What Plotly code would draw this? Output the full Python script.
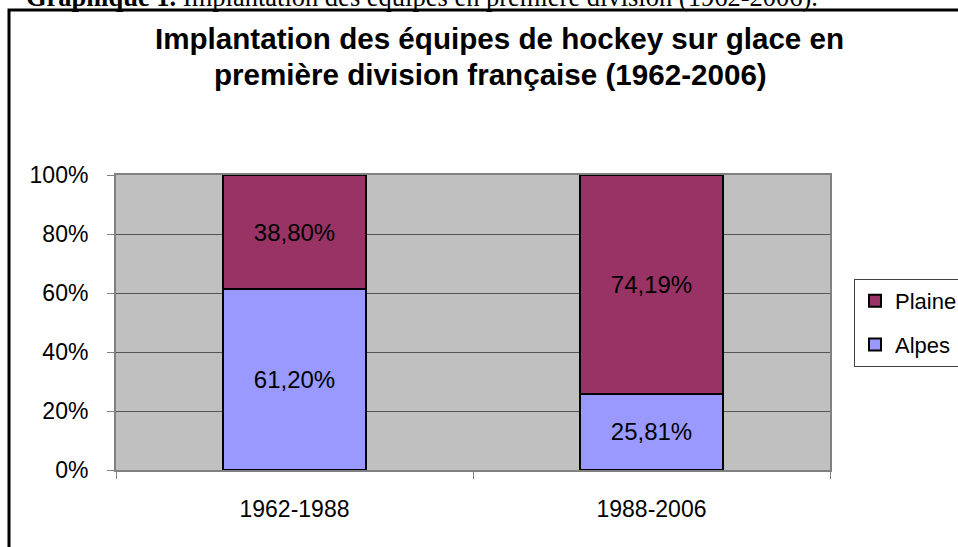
import plotly.graph_objects as go

# ---- data ----
categories = ["1962-1988", "1988-2006"]
alpes = [61.20, 25.81]
plaine = [38.80, 74.19]
series_names = ["Alpes", "Plaine"]
y_ticks = [0, 20, 40, 60, 80, 100]
title_lines = ["Implantation des équipes de hockey sur glace en",
               "première division française (1962-2006)"]
caption_bold = "Graphique 1."
caption_rest = "Implantation des équipes en première division (1962-2006)."

# ---- layout geometry (pixels) ----
W, H = 958, 547
PL, PR, PT, PB = 116, 830, 175, 470


def px_x(px):
    return (px - PL) / (PR - PL)


def px_y(py):
    return (PB - py) / (PB - PT)


def fmt(v):
    return f"{v:.2f}%".replace(".", ",")


SANS = "Liberation Sans, Arial, sans-serif"
SERIF = "Liberation Serif, Times New Roman, serif"

fig = go.Figure()
fig.add_trace(go.Bar(
    x=categories, y=alpes, name=series_names[0], legendgroup="a", legendrank=2,
    marker=dict(color="#9999FF", line=dict(color="black", width=2)),
    text=[fmt(v) for v in alpes], textposition="inside",
    insidetextanchor="middle",
    insidetextfont=dict(family=SANS, size=24, color="black"),
    width=0.403, hoverinfo="skip"))
fig.add_trace(go.Bar(
    x=categories, y=plaine, name=series_names[1], legendgroup="b", legendrank=1,
    marker=dict(color="#993366", line=dict(color="black", width=2)),
    text=[fmt(v) for v in plaine], textposition="inside",
    insidetextanchor="middle",
    insidetextfont=dict(family=SANS, size=24, color="black"),
    width=0.403, hoverinfo="skip"))

annotations = [
    dict(text=title_lines[0], x=px_x(499), y=px_y(57), xref="paper", yref="paper",
         xanchor="center", yanchor="bottom", showarrow=False,
         font=dict(family=SANS, size=29.6, color="black", weight="bold")),
    dict(text=title_lines[1], x=px_x(490), y=px_y(93), xref="paper", yref="paper",
         xanchor="center", yanchor="bottom", showarrow=False,
         font=dict(family=SANS, size=29.6, color="black", weight="bold")),
    dict(text=f"<b>{caption_bold}</b> {caption_rest}", x=px_x(24), y=px_y(14),
         xref="paper", yref="paper", xanchor="left", yanchor="bottom",
         showarrow=False, font=dict(family=SERIF, size=26.5, color="black")),
]

shapes = [
    dict(type="rect", xref="paper", yref="paper",
         x0=px_x(9), x1=px_x(975), y0=px_y(10), y1=px_y(565),
         line=dict(color="black", width=3), fillcolor="rgba(0,0,0,0)", layer="above"),
]

fig.update_layout(
    width=W, height=H,
    margin=dict(l=PL, r=W - PR, t=PT, b=H - PB, pad=0, autoexpand=False),
    paper_bgcolor="white", plot_bgcolor="#C0C0C0",
    barmode="stack", bargap=0.597,
    showlegend=True,
    legend=dict(xref="container", yref="container",
                x=854 / W, y=1 - 279 / H, xanchor="left", yanchor="top",
                traceorder="grouped", tracegroupgap=12,
                bgcolor="white", bordercolor="#404040", borderwidth=1,
                font=dict(family=SANS, size=22, color="black")),
    annotations=annotations, shapes=shapes,
    font=dict(family=SANS, color="black"),
)
fig.update_yaxes(range=[0, 100], tickvals=y_ticks, ticktext=[f"{v}%" for v in y_ticks],
                 showgrid=True, gridcolor="#555555", gridwidth=1,
                 zeroline=False, showline=True, linecolor="#808080", linewidth=2,
                 mirror=True, ticks="outside", ticklen=7, tickcolor="#808080",
                 tickfont=dict(family=SANS, size=23, color="black"),
                 ticklabelstandoff=14, automargin=False, fixedrange=True)
fig.update_xaxes(tickson="boundaries", ticks="outside", ticklen=7, tickcolor="#808080",
                 showline=True, linecolor="#808080", linewidth=2, mirror=True,
                 showgrid=False,
                 tickfont=dict(family=SANS, size=23, color="black"),
                 ticklabelstandoff=17, automargin=False, fixedrange=True)

fig.write_html("out.html", config={"displayModeBar": False},
               post_script="document.body.style.margin='0';")
